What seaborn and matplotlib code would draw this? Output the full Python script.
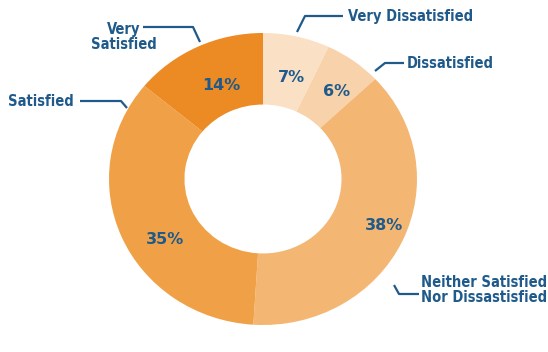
import matplotlib
matplotlib.use('Agg')
import matplotlib.pyplot as plt
import seaborn as sns

# Données du graphique (sens horaire depuis le haut)
categories = ["Very Dissatisfied", "Dissatisfied",
              "Neither Satisfied\nNor Dissastisfied", "Satisfied", "Very\nSatisfied"]
valeurs = [7, 6, 38, 35, 14]
couleurs = ["#fae1c6", "#f8d2aa", "#f4b673", "#f0a147", "#ec8a24"]

sns.set_theme(style="white")
plt.rcParams['font.family'] = ['DejaVu Sans']
bleu = "#1f5a8a"

W, H = 548, 352
cx, cy, rx, ry = 263, 179, 154, 146


def px(x, y):
    # pixels (origine en haut à gauche) -> coordonnées de l'axe
    return (x - cx) / rx, (cy - y) / ry


fig = plt.figure(figsize=(W / 100, H / 100), dpi=100)
ax = fig.add_axes([0, 0, 1, 1])
wedges, textes, pcts = ax.pie(
    valeurs, colors=sns.color_palette(couleurs), startangle=90, counterclock=False,
    radius=1, wedgeprops=dict(width=0.49, edgecolor="none"),
    autopct="%d%%", pctdistance=0.76,
    textprops=dict(color=bleu, fontsize=11.5, fontweight="heavy"))
ax.set_aspect("auto")
x0, y0 = px(0, H)
x1, y1 = px(W, 0)
ax.set_xlim(x0, x1)
ax.set_ylim(y0, y1)
ax.axis("off")

# Placement des pourcentages comme sur l'original
pos_pct = [(291, 78), (337, 92), (384, 225), (165, 240), (221, 86)]
for t, (tx, ty) in zip(pcts, pos_pct):
    t.set_position(px(tx, ty))

# Étiquettes avec traits de rappel
reperes = [
    # texte, position texte, alignement, polyligne
    (categories[0], (348, 16), "left", [(343, 16), (305, 16), (297, 32)]),
    (categories[1], (407, 63), "left", [(404, 63), (385, 63), (375, 71)]),
    (categories[2], (421, 290), "left", [(419, 294), (399, 294), (394, 285)]),
    (categories[3], (74, 101), "right", [(80, 101), (121, 101), (127, 108)]),
    (categories[4], (124, 37), "center", [(143, 27), (193, 27), (200, 42)]),
]
for texte, (tx, ty), ha, ligne in reperes:
    ax.text(*px(tx, ty), texte, ha=ha, va="center", color=bleu, fontsize=10.5,
            fontweight="bold", fontstretch="condensed", linespacing=1.05,
            multialignment=ha)
    xs, ys = zip(*[px(a, b) for a, b in ligne])
    ax.plot(xs, ys, color=bleu, lw=1.6, solid_capstyle="butt")

fig.savefig("out.png", dpi=100)
